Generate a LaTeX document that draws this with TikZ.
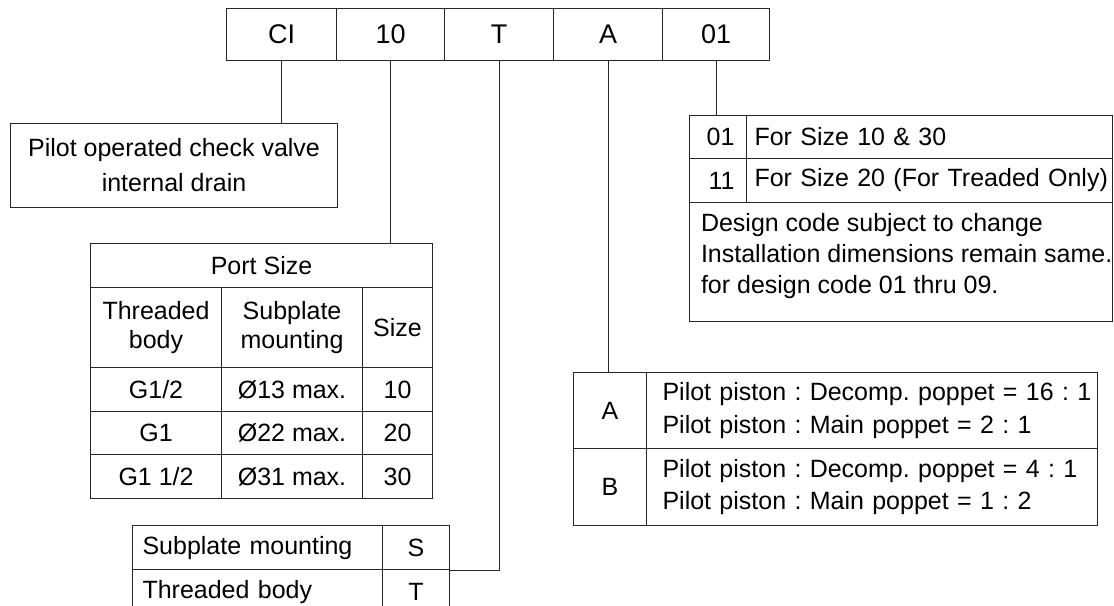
\documentclass[tikz,border=0pt]{standalone}
\usepackage{fontspec}
\setmainfont{Liberation Sans}
\frenchspacing
\newcommand{\pxu}{0.75pt}
\tikzset{
  cell/.style={rectangle,draw=black!85,line width=0.8pt,anchor=north west,inner sep=0pt,align=center,font=\fontsize{18.75}{24}\selectfont},
  code/.style={cell,minimum height=52*\pxu,font=\fontsize{20.25}{24}\selectfont},
  link/.style={draw=black!85,line width=0.8pt},
}
\begin{document}
\begin{tikzpicture}[x=0.75pt,y=-0.75pt]
	\useasboundingbox (0,0) rectangle (1114,606);
	% ordering code
	\node [code,minimum width=110*\pxu] (ci) at (226,8) {CI};
	\node [code,minimum width=108*\pxu] (sz) at (336,8) {10};
	\node [code,minimum width=109*\pxu] (bt) at (444,8) {T};
	\node [code,minimum width=109*\pxu] (pr) at (553,8) {A};
	\node [code,minimum width=107*\pxu] (dc) at (662,8) {01};
	% series
	\node [cell,minimum width=327*\pxu,minimum height=84*\pxu,font=\fontsize{18.75}{26.25}\selectfont] (d) at (10,123) {Pilot operated check valve\\internal drain};
	% port size
	\node [cell,minimum width=342*\pxu,minimum height=44*\pxu] (ph) at (90,243) {Port Size};
	\node [cell,minimum width=131*\pxu,minimum height=80*\pxu,font=\fontsize{18.75}{21.75}\selectfont] (th) at (90,287) {Threaded\\body};
	\node [cell,minimum width=141*\pxu,minimum height=80*\pxu,font=\fontsize{18.75}{21.75}\selectfont] (sh) at (221,287) {Subplate\\mounting};
	\node [cell,minimum width=70*\pxu,minimum height=80*\pxu] (zh) at (362,287) {Size};
	\node [cell,minimum width=131*\pxu,minimum height=44*\pxu] (t1) at (90,367) {G1/2};
	\node [cell,minimum width=141*\pxu,minimum height=44*\pxu] (s1) at (221,367) {Ø13 max.};
	\node [cell,minimum width=70*\pxu,minimum height=44*\pxu] (z1) at (362,367) {10};
	\node [cell,minimum width=131*\pxu,minimum height=43*\pxu] (t2) at (90,411) {G1};
	\node [cell,minimum width=141*\pxu,minimum height=43*\pxu] (s2) at (221,411) {Ø22 max.};
	\node [cell,minimum width=70*\pxu,minimum height=43*\pxu] (z2) at (362,411) {20};
	\node [cell,minimum width=131*\pxu,minimum height=44*\pxu] (t3) at (90,454) {G1 1/2};
	\node [cell,minimum width=141*\pxu,minimum height=44*\pxu] (s3) at (221,454) {Ø31 max.};
	\node [cell,minimum width=70*\pxu,minimum height=44*\pxu] (z3) at (362,454) {30};
	% body type
	\node [cell,align=left,inner xsep=7.5pt,text width=172.5pt,minimum height=44*\pxu] (ms) at (132,525) {Subplate mounting};
	\node [cell,minimum width=67*\pxu,minimum height=44*\pxu] (ss) at (382,525) {S};
	\node [cell,align=left,inner xsep=7.5pt,text width=172.5pt,minimum height=44*\pxu] (mt) at (132,569) {Threaded body};
	\node [cell,minimum width=67*\pxu,minimum height=44*\pxu] (st) at (382,569) {T};
	% design code
	\node [cell,align=right,inner xsep=9pt,text width=24.75pt,minimum height=43*\pxu] (l1) at (689,115) {01};
	\node [cell,align=left,inner xsep=6pt,text width=262.5pt,minimum height=43*\pxu] (f1) at (746,115) {\mbox{For Size 10 \& 30}};
	\node [cell,align=right,inner xsep=9pt,text width=24.75pt,minimum height=44*\pxu] (l2) at (689,158) {11};
	\node [cell,align=left,inner xsep=6pt,text width=262.5pt,minimum height=44*\pxu] (f2) at (746,158) {\mbox{For Size 20 (For Treaded Only)}};
	\node [cell,minimum width=423*\pxu,minimum height=119*\pxu] (nt) at (689,202) {};
	\node [anchor=north west,inner sep=0pt,align=left,font=\fontsize{18.75}{23.25}\selectfont] (ntx) at ([xshift=8.8pt,yshift=-8.7pt]nt.north west) {Design code subject to change\\Installation dimensions remain same.\\for design code 01 thru 09.};
	% ratio
	\node [cell,minimum width=73*\pxu,minimum height=76*\pxu] (ra) at (573,372) {A};
	\node [cell,align=left,inner xsep=12pt,text width=314.25pt,minimum height=76*\pxu,font=\fontsize{18.75}{24.5}\selectfont] (ta) at (646,372) {\mbox{Pilot piston : Decomp. poppet = 16 : 1}\\\mbox{Pilot piston : Main poppet = 2 : 1}};
	\node [cell,minimum width=73*\pxu,minimum height=77*\pxu] (rb) at (573,448) {B};
	\node [cell,align=left,inner xsep=12pt,text width=314.25pt,minimum height=77*\pxu,font=\fontsize{18.75}{24.5}\selectfont] (tb) at (646,448) {\mbox{Pilot piston : Decomp. poppet = 4 : 1}\\\mbox{Pilot piston : Main poppet = 1 : 2}};
	% leaders
	\draw [link] (ci.south) -- (ci.south |- d.north);
	\draw [link] (sz.south) -- (sz.south |- ph.north);
	\draw [link] (bt.south) |- (ss.south east);
	\draw [link] (pr.south) -- (pr.south |- ra.north);
	\draw [link] (dc.south) -- (dc.south |- l1.north);
\end{tikzpicture}
\end{document}
